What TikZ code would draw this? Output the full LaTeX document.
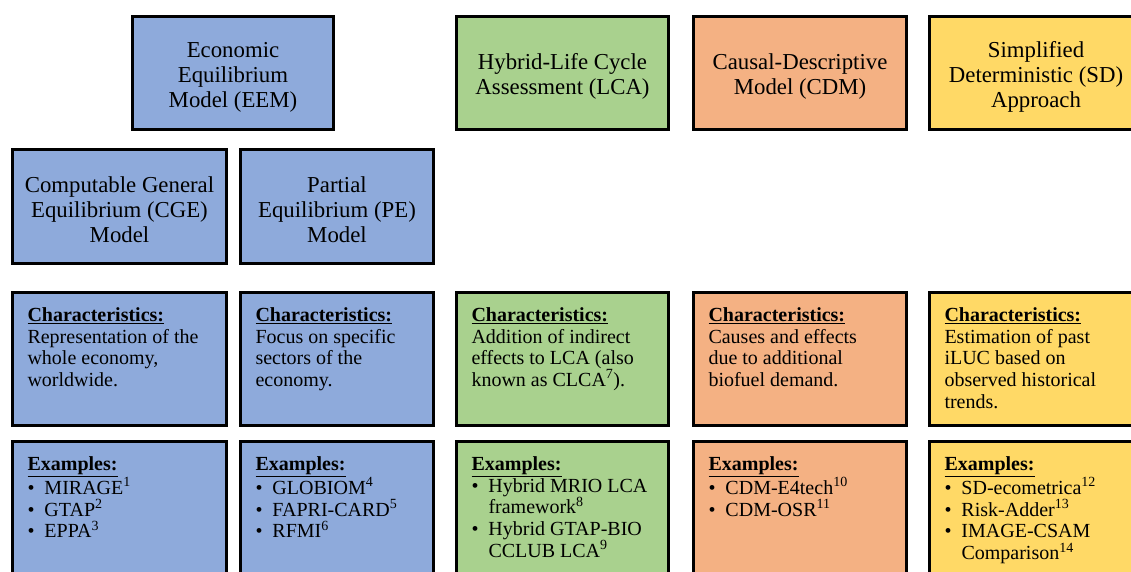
\documentclass[tikz,border=0pt]{standalone}
\usepackage{fontspec}
\setmainfont{Liberation Serif}
\usepackage{tikz}
\usetikzlibrary{positioning}
\definecolor{eemblue}{HTML}{8EAADB}
\definecolor{lcagreen}{HTML}{A9D18E}
\definecolor{cdmorange}{HTML}{F4B183}
\definecolor{sdyellow}{HTML}{FFD966}
\tikzstyle{model} = [draw, line width=3pt, rectangle, align=center, font=\fontsize{22.8}{25}\selectfont]
\tikzstyle{info} = [draw, line width=3pt, rectangle, inner xsep=15pt, inner ysep=15pt, anchor=north west, font=\fontsize{20}{21.7}\selectfont]
\newcommand{\tstrut}{\rule{0pt}{23pt}}
\newcommand{\infotext}[3]{\begin{minipage}[t][#2][t]{#1}\raggedright #3\end{minipage}}
\newcommand{\head}[1]{\underline{\textbf{#1}}\par}
\newcommand{\bul}[1]{\par\hangindent=17pt\hangafter=1\noindent\makebox[17pt][l]{\textbullet}#1}

\begin{document}
\begin{tikzpicture}[x=1pt, y=-1pt]
    \useasboundingbox (0,0) rectangle (1131,572);
    \clip (0,0) rectangle (1131,572);
    % Model types
    \node [model, fill=eemblue, minimum width=201pt, minimum height=113pt] (eem) at (233,73) {\tstrut Economic\\Equilibrium\\Model (EEM)};
    \node [model, fill=eemblue, minimum width=214pt, minimum height=114pt] (cge) at (119.5,206.5) {\tstrut Computable General\\Equilibrium (CGE)\\Model};
    \node [model, fill=eemblue, minimum width=193pt, minimum height=114pt] (pe) at (337,206.5) {\tstrut Partial\\Equilibrium (PE)\\Model};
    \node [model, fill=lcagreen, minimum width=212pt, minimum height=113pt] (lca) at (562.5,73) {\tstrut Hybrid-Life Cycle\\Assessment (LCA)};
    \node [model, fill=cdmorange, minimum width=213pt, minimum height=113pt] (cdm) at (800,73) {\tstrut Causal-Descriptive\\Model (CDM)};
    \node [model, fill=sdyellow, minimum width=213pt, minimum height=113pt] (sd) at (1036,73) {\tstrut Simplified\\Deterministic (SD)\\Approach};

    % Characteristics
    \node [info, fill=eemblue, below=26pt of cge.south west, anchor=north west] (cgechar) {\infotext{184pt}{103pt}{\head{Characteristics:}Representation of the\\whole economy,\\worldwide.}};
    \node [info, fill=eemblue, below=26pt of pe.south west, anchor=north west] (pechar) {\infotext{163pt}{103pt}{\head{Characteristics:}Focus on specific\\sectors of the\\economy.}};
    \node [info, fill=lcagreen, below=160pt of lca.south west, anchor=north west] (lcachar) {\infotext{182pt}{103pt}{\head{Characteristics:}Addition of indirect\\effects to LCA (also\\known as CLCA\textsuperscript{7}).}};
    \node [info, fill=cdmorange, below=160pt of cdm.south west, anchor=north west] (cdmchar) {\infotext{183pt}{103pt}{\head{Characteristics:}Causes and effects\\due to additional\\biofuel demand.}};
    \node [info, fill=sdyellow, below=160pt of sd.south west, anchor=north west] (sdchar) {\infotext{183pt}{103pt}{\head{Characteristics:}Estimation of past\\iLUC based on\\observed historical\\trends.}};

    % Examples
    \node [info, fill=eemblue, below=13pt of cgechar.south west, anchor=north west] (cgeex) {\infotext{184pt}{110pt}{\head{Examples:}\bul{MIRAGE\textsuperscript{1}}\bul{GTAP\textsuperscript{2}}\bul{EPPA\textsuperscript{3}}}};
    \node [info, fill=eemblue, below=13pt of pechar.south west, anchor=north west] (peex) {\infotext{163pt}{110pt}{\head{Examples:}\bul{GLOBIOM\textsuperscript{4}}\bul{FAPRI-CARD\textsuperscript{5}}\bul{RFMI\textsuperscript{6}}}};
    \node [info, fill=lcagreen, below=13pt of lcachar.south west, anchor=north west] (lcaex) {\infotext{182pt}{110pt}{\head{Examples:}\bul{Hybrid MRIO LCA\newline framework\textsuperscript{8}}\bul{Hybrid GTAP-BIO\newline CCLUB LCA\textsuperscript{9}}}};
    \node [info, fill=cdmorange, below=13pt of cdmchar.south west, anchor=north west] (cdmex) {\infotext{183pt}{110pt}{\head{Examples:}\bul{CDM-E4tech\textsuperscript{10}}\bul{CDM-OSR\textsuperscript{11}}}};
    \node [info, fill=sdyellow, below=13pt of sdchar.south west, anchor=north west] (sdex) {\infotext{183pt}{110pt}{\head{Examples:}\bul{SD-ecometrica\textsuperscript{12}}\bul{Risk-Adder\textsuperscript{13}}\bul{IMAGE-CSAM\newline Comparison\textsuperscript{14}}}};
\end{tikzpicture}
\end{document}
